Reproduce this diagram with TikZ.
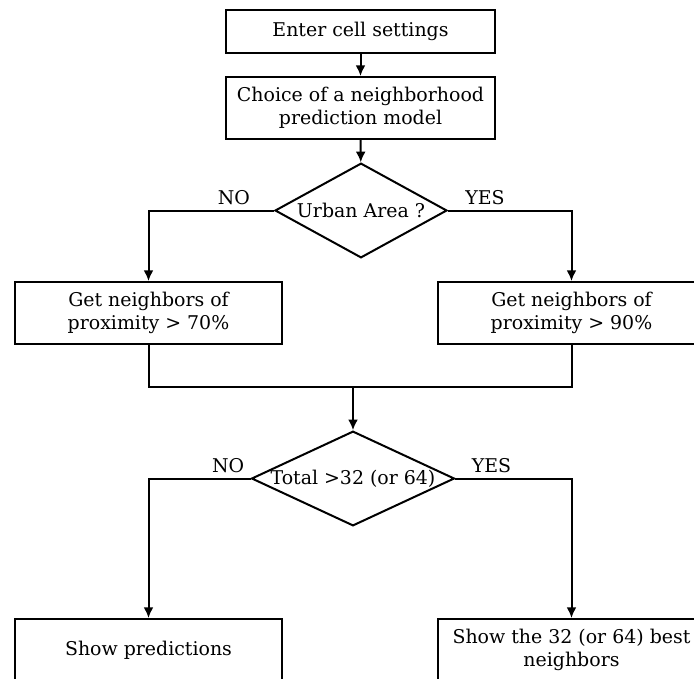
\documentclass[tikz,border=0pt]{standalone}
\usepackage{fontspec}
\setmainfont{DejaVu Serif}
\usetikzlibrary{shapes.geometric,arrows.meta}

\begin{document}
\begin{tikzpicture}[x=0.75pt,y=-0.75pt,
   every node/.style={font=\fontsize{14.2}{17.5}\selectfont},
   box/.style={draw,line width=1.5pt,align=center,inner sep=0pt,
      minimum width=200.5pt,minimum height=46.5pt},
   decision/.style={draw,diamond,line width=1.5pt,inner sep=0pt,
      minimum height=71pt},
   conn/.style={line width=1.5pt},
   arrow/.style={conn,-{Latex[length=8pt,width=7.5pt]}}]
\clip (0,0) rectangle (694,679);
\node[box,minimum width=201.5pt,minimum height=32.5pt] (enter) at (360.5,31.5) {Enter cell settings};
\node[box,minimum width=201.5pt] (choice) at (360.5,108) {Choice of a neighborhood\\prediction model};
\node[decision,aspect=1.8,minimum width=129pt] (urban) at (361,210.5) {Urban Area ?};
\node[box] (near) at (148.5,313) {Get neighbors of\\proximity > 70\%};
\node[box] (far) at (571.5,313) {Get neighbors of\\proximity > 90\%};
\node[decision,aspect=2.2,minimum width=152pt] (total) at (353,478.5) {Total >32 (or 64)};
\coordinate (merge) at (353,387);
\node[box] (show) at (148.5,650) {Show predictions};
\node[box] (best) at (571.5,650) {Show the 32 (or 64) best\\neighbors};

\draw[arrow] (enter) -- (choice);
\draw[arrow] (choice) -- (urban);
\draw[arrow] (urban.west) -| node[pos=0.16,above] {NO} (near.north);
\draw[arrow] (urban.east) -| node[pos=0.15,above] {YES} (far.north);
\draw[conn] (near.south) |- (merge) -| (far.south);
\draw[arrow] (merge) -- (total.north);
\draw[arrow] (total.west) -| node[pos=0.11,above] {NO} (show.north);
\draw[arrow] (total.east) -| node[pos=0.155,above] {YES} (best.north);
\end{tikzpicture}
\end{document}
